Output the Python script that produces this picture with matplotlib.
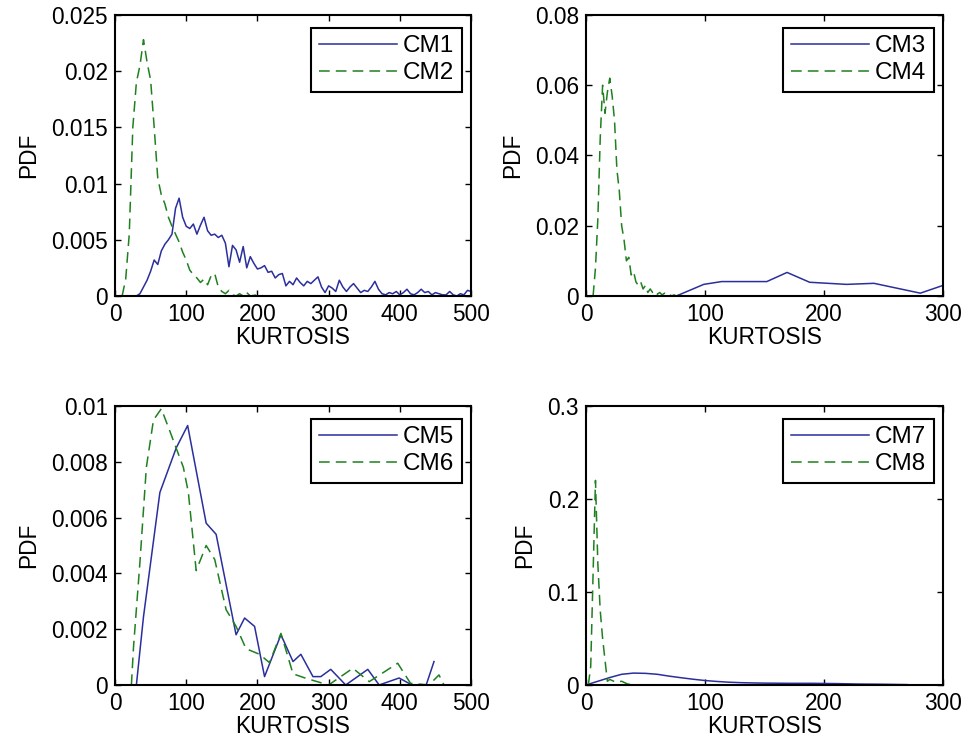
import matplotlib
matplotlib.use("Agg")
import matplotlib.pyplot as plt
from matplotlib.ticker import FuncFormatter

'''
Kurtosis PDFs for the eight components, drawn as four panels
'''

plt.rcParams['font.family'] = ['Liberation Sans', 'DejaVu Sans']

# CM1 / CM2
cm1_x = [30, 35, 40, 45, 50, 55, 60, 65, 70, 75, 80, 85, 90, 95, 100, 105, 110, 115, 120, 125,
         130, 135, 140, 145, 150, 155, 160, 165, 170, 175, 180, 185, 190, 195, 200, 205, 210, 215, 220, 225,
         230, 235, 240, 245, 250, 255, 260, 265, 270, 275, 280, 285, 290, 295, 300, 305, 310, 315, 320, 325,
         330, 335, 340, 345, 350, 355, 360, 365, 370, 375, 380, 385, 390, 395, 400, 405, 410, 415, 420, 425,
         430, 435, 440, 445, 450, 455, 460, 465, 470, 475, 480, 485, 490, 495, 500]
cm1_y = [0, 0.0002, 0.0008, 0.0014, 0.0022, 0.0032, 0.0028, 0.0040, 0.0046, 0.0050,
         0.0055, 0.0078, 0.0087, 0.0070, 0.0062, 0.0060, 0.0064, 0.0055, 0.0063, 0.0070,
         0.0058, 0.0054, 0.0055, 0.0052, 0.0054, 0.0047, 0.0026, 0.0045, 0.0041, 0.0030,
         0.0044, 0.0025, 0.0035, 0.0029, 0.0024, 0.0025, 0.0027, 0.0021, 0.0022, 0.0016,
         0.0019, 0.0020, 0.0009, 0.0013, 0.0010, 0.0016, 0.0012, 0.0009, 0.0013, 0.0011,
         0.0014, 0.0017, 0.0008, 0.0003, 0.0009, 0.0007, 0.0004, 0.0014, 0.0008, 0.0004,
         0.0008, 0.0011, 0.0007, 0.0003, 0.0005, 0.0004, 0.0008, 0.0013, 0.0006, 0.0002,
         0.0001, 0.0003, 0.0002, 0.0004, 0.0001, 0.0003, 0.0006, 0.0002, 0.0001, 0.0003,
         0.0006, 0.0003, 0.0004, 0.0001, 0.0003, 0.0002, 0.0001, 0.0001, 0.0004, 0.0001,
         0.0000, 0.0002, 0.0001, 0.0005, 0.0004]
cm2_x = [10, 15, 20, 25, 30, 35, 40, 45, 50, 55, 60, 65, 70, 75, 80, 85, 90, 95, 100, 105,
         110, 115, 120, 125, 130, 135, 140, 145, 150, 155, 160, 165, 170, 175, 180, 185, 190, 200, 210, 220]
cm2_y = [0, 0.0015, 0.0055, 0.0150, 0.0190, 0.0205, 0.0228, 0.0208, 0.0192, 0.0150,
         0.0105, 0.0090, 0.0082, 0.0070, 0.0062, 0.0055, 0.0048, 0.0039, 0.0032, 0.0023,
         0.0019, 0.0016, 0.0012, 0.0015, 0.0010, 0.0018, 0.0020, 0.0008, 0.0004, 0.0002,
         0.0005, 0.0001, 0.0000, 0.0002, 0.0000, 0.0003, 0.0000, 0.0001, 0.0000, 0.0000]

# CM3 / CM4
cm3_x = [76, 99, 114, 152, 169, 188, 219, 242, 281, 300]
cm3_y = [0, 0.0033, 0.0041, 0.0041, 0.0067, 0.0039, 0.0033, 0.0036, 0.0008, 0.0030]
cm4_x = [6, 8, 10, 12, 14, 16, 18, 20, 22, 24, 26, 28, 30, 32, 34, 36, 38, 40, 42, 44,
         46, 48, 50, 52, 54, 56, 58, 60, 62, 64, 66, 68, 70, 72, 74, 76, 78, 80]
cm4_y = [0, 0.008, 0.022, 0.045, 0.060, 0.052, 0.058, 0.062, 0.057, 0.050,
         0.036, 0.030, 0.020, 0.016, 0.010, 0.011, 0.006, 0.007, 0.004, 0.003,
         0.004, 0.002, 0.003, 0.001, 0.002, 0.001, 0.0015, 0.0005, 0.001, 0.0003,
         0.0008, 0.0002, 0.0005, 0, 0.0003, 0, 0.0002, 0]

# CM5 / CM6
cm5_x = [30, 40, 63, 86, 102, 128, 142, 170, 182, 196, 210, 233, 250, 261, 278, 289, 303,
         324, 355, 371, 399, 417, 437, 448]
cm5_y = [0, 0.00245, 0.0069, 0.0085, 0.0093, 0.0058, 0.0054, 0.0018, 0.0024, 0.0021, 0.0003,
         0.0018, 0.00084, 0.0011, 0.0003, 0.0003, 0.00056, 0, 0.00056, 0, 0.00025, 0, 0, 0.00084]
cm6_x = [23, 26, 35, 44, 54, 65, 77, 96, 103, 114, 128, 140, 156, 170, 184, 203, 217, 233,
         250, 268, 300, 334, 357, 397, 415, 441, 455, 462]
cm6_y = [0, 0.00137, 0.0044, 0.0078, 0.0095, 0.0099, 0.0091, 0.0078, 0.0069, 0.0041, 0.0050,
         0.0045, 0.0027, 0.0021, 0.0013, 0.0011, 0.0008, 0.00185, 0.0004, 0.00024, 0, 0.0006,
         0.00012, 0.00078, 0.00006, 0, 0.00036, 0]

# CM7 / CM8
cm7_x = [0, 10, 20, 30, 40, 50, 60, 70, 80, 90, 100, 110, 120, 130, 140, 150, 170, 190,
         210, 230, 250, 270]
cm7_y = [0, 0.004, 0.008, 0.0115, 0.0128, 0.0125, 0.0115, 0.0095, 0.0078, 0.0062, 0.0048,
         0.0038, 0.0030, 0.0025, 0.0022, 0.0020, 0.0018, 0.0018, 0.0015, 0.0010, 0.0008, 0.0004]
cm8_x = [2, 4, 6, 8, 10, 12, 14, 16, 18, 20, 25, 30, 35, 40]
cm8_y = [0, 0.02, 0.12, 0.22, 0.13, 0.08, 0.05, 0.027, 0.004, 0.006, 0.003, 0.004, 0.001, 0]

xticks_500 = [0, 100, 200, 300, 400, 500]
xticks_300 = [0, 100, 200, 300]

panels = [
    # (rect, solid series, dashed series, labels, xticks, yticks)
    ([0.1187, 0.6059, 0.3674, 0.3742], (cm1_x, cm1_y), (cm2_x, cm2_y), ('CM1', 'CM2'),
     xticks_500, [0, 0.005, 0.01, 0.015, 0.02, 0.025]),
    ([0.6047, 0.6059, 0.3684, 0.3742], (cm3_x, cm3_y), (cm4_x, cm4_y), ('CM3', 'CM4'),
     xticks_300, [0, 0.02, 0.04, 0.06, 0.08]),
    ([0.1187, 0.0879, 0.3674, 0.3715], (cm5_x, cm5_y), (cm6_x, cm6_y), ('CM5', 'CM6'),
     xticks_500, [0, 0.002, 0.004, 0.006, 0.008, 0.01]),
    ([0.6047, 0.0879, 0.3684, 0.3715], (cm7_x, cm7_y), (cm8_x, cm8_y), ('CM7', 'CM8'),
     xticks_300, [0, 0.1, 0.2, 0.3]),
]

blue = '#2a2f9c'
green = '#1f801f'
fsize = 16.3
legsize = 17.5


def draw_panel(fig, rect, solid, dashed, labels, xticks, yticks):
    ax = fig.add_axes(rect)
    ax.plot(solid[0], solid[1], color=blue, lw=1.1, label=labels[0])
    ax.plot(dashed[0], dashed[1], color=green, lw=1.1, dashes=(7, 4), label=labels[1])
    ax.set_xlim(xticks[0], xticks[-1])
    ax.set_ylim(yticks[0], yticks[-1])
    ax.set_xticks(xticks)
    ax.set_yticks(yticks)
    ax.yaxis.set_major_formatter(FuncFormatter(lambda v, p: '%g' % v))
    ax.tick_params(direction='in', top=True, right=True, length=4, width=1,
                   labelsize=fsize, pad=5)
    for s in ax.spines.values():
        s.set_linewidth(1.5)
    ax.set_xlabel('KURTOSIS', fontsize=fsize, labelpad=0)
    ax.set_ylabel('PDF', fontsize=fsize, labelpad=8)
    leg = ax.legend(loc='upper right', bbox_to_anchor=(0.975, 0.955), borderaxespad=0,
                    fontsize=legsize, fancybox=False, framealpha=1,
                    edgecolor='black', handlelength=3.2, handletextpad=0.25,
                    labelspacing=0.2, borderpad=0.32)
    leg.get_frame().set_linewidth(1.5)
    return ax


def main():
    fig = plt.figure(figsize=(9.69, 7.51), dpi=100)
    for rect, solid, dashed, labels, xticks, yticks in panels:
        draw_panel(fig, rect, solid, dashed, labels, xticks, yticks)
    fig.savefig('out.png', dpi=100)


if __name__ == "__main__":
    main()
